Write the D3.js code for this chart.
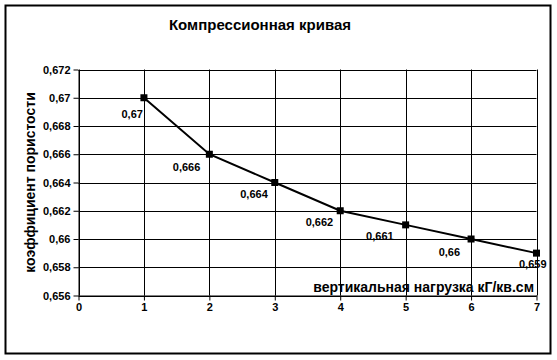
<!DOCTYPE html>
<html>
<head>
<meta charset="utf-8">
<script src="https://cdn.jsdelivr.net/npm/d3@7"></script>
<style>
  body { margin: 0; background: #fff; }
  svg text { font-family: "Liberation Sans", Arial, sans-serif; fill: #000; }
</style>
</head>
<body>
<div id="chart"></div>
<script>
// нагрузка и коэффициент пористости
const loads = [1, 2, 3, 4, 5, 6, 7];
const porosity = [0.670, 0.666, 0.664, 0.662, 0.661, 0.660, 0.659];
const pointLabels = ["0,67", "0,666", "0,664", "0,662", "0,661", "0,66", "0,659"];
const xTicks = [0, 1, 2, 3, 4, 5, 6, 7];
const yTicks = [0.656, 0.658, 0.660, 0.662, 0.664, 0.666, 0.668, 0.670, 0.672];

// label nudges (dx, dy) relative to the marker
const labelNudge = [[-1, 16], [-9, 13], [-7, 12], [-7, 11], [-12, 11], [-11, 13], [10, 11]];

const w = 557, h = 360;
const plotL = 78.5, plotR = 536.5, plotT = 69.5, plotB = 295.5;

const svg = d3.select("#chart").append("svg")
  .attr("width", w).attr("height", h);

svg.append("rect")
  .attr("x", 5.5).attr("y", 5.5)
  .attr("width", 545).attr("height", 348)
  .attr("fill", "#fff").attr("stroke", "#000").attr("stroke-width", 2);

const xScale = d3.scaleLinear().domain([0, 7]).range([plotL, plotR]);
const yScale = d3.scaleLinear().domain([0.656, 0.672]).range([plotB, plotT]);

// grid
svg.append("g").selectAll("line").data(yTicks).enter().append("line")
  .attr("x1", plotL).attr("x2", plotR)
  .attr("y1", d => Math.round(yScale(d)) + 0.5).attr("y2", d => Math.round(yScale(d)) + 0.5)
  .attr("stroke", "#000");
svg.append("g").selectAll("line").data(xTicks).enter().append("line")
  .attr("x1", d => Math.round(xScale(d)) + 0.5).attr("x2", d => Math.round(xScale(d)) + 0.5)
  .attr("y1", plotT).attr("y2", plotB)
  .attr("stroke", "#000");

const fmt = d => d3.format(".3~f")(d).replace(".", ",");

const xAxis = d3.axisBottom(xScale).tickValues(xTicks).tickSize(5).tickSizeOuter(0).tickPadding(3)
  .tickFormat(d3.format("d"));
const yAxis = d3.axisLeft(yScale).tickValues(yTicks).tickSize(5).tickSizeOuter(0).tickPadding(3).tickFormat(fmt);

const gx = svg.append("g")
  .attr("transform", "translate(0," + plotB + ")")
  .call(xAxis);
const gy = svg.append("g")
  .attr("transform", "translate(" + plotL + ",0)")
  .call(yAxis);
[gx, gy].forEach(g => {
  g.select(".domain").attr("stroke", "#000");
  g.selectAll(".tick line").attr("stroke", "#000");
  g.selectAll(".tick text")
    .style("font-family", "'Liberation Sans', Arial, sans-serif")
    .style("font-size", "11px").style("font-weight", "bold").attr("fill", "#000");
});

// line + markers
const line = d3.line()
  .x((d, i) => xScale(loads[i]))
  .y(d => yScale(d));
svg.append("path")
  .datum(porosity)
  .attr("d", line)
  .attr("fill", "none").attr("stroke", "#000").attr("stroke-width", 2);

svg.append("g").selectAll("rect").data(porosity).enter().append("rect")
  .attr("x", (d, i) => xScale(loads[i]) - 3.5)
  .attr("y", d => yScale(d) - 3.5)
  .attr("width", 7).attr("height", 7)
  .attr("fill", "#000");

svg.append("g").selectAll("text").data(porosity).enter().append("text")
  .attr("x", (d, i) => xScale(loads[i]) + labelNudge[i][0])
  .attr("y", (d, i) => yScale(d) + labelNudge[i][1])
  .attr("text-anchor", "end")
  .attr("dy", "0.35em")
  .style("font-size", "11px").style("font-weight", "bold")
  .text((d, i) => pointLabels[i]);

// titles
svg.append("text")
  .attr("x", 260).attr("y", 25).attr("dy", "0.35em")
  .attr("text-anchor", "middle")
  .style("font-size", "15px").style("font-weight", "bold")
  .text("Компрессионная кривая");

svg.append("text")
  .attr("transform", "translate(30," + (plotT + plotB) / 2 + ") rotate(-90)")
  .attr("dy", "0.35em")
  .attr("text-anchor", "middle")
  .style("font-size", "14px").style("font-weight", "bold")
  .text("коэффициент пористости");

svg.append("text")
  .attr("x", 534).attr("y", 287).attr("dy", "0.35em")
  .attr("text-anchor", "end")
  .style("font-size", "14px").style("font-weight", "bold")
  .text("вертикальная нагрузка кГ/кв.см");
</script>
</body>
</html>
